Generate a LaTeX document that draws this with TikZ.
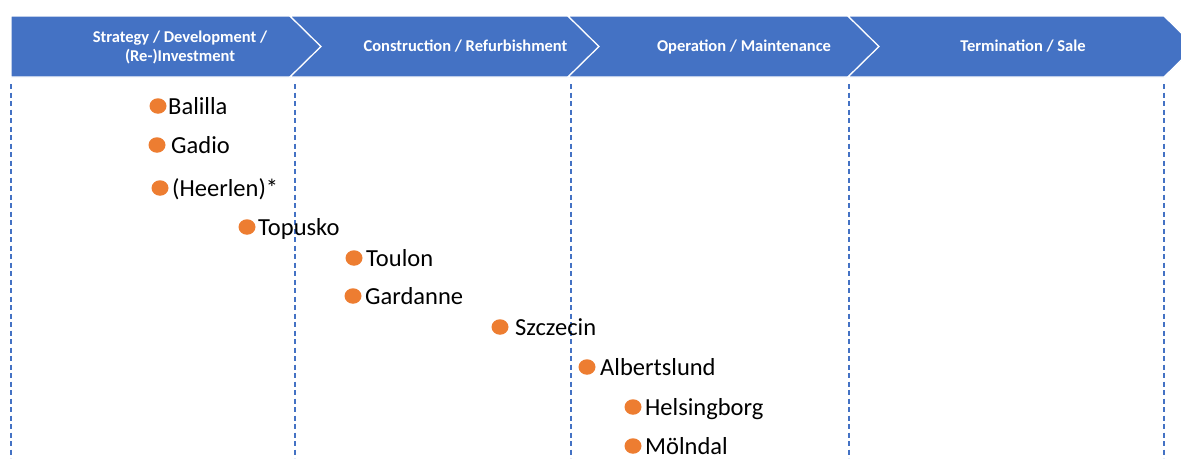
\documentclass[tikz,border=0pt]{standalone}
\usepackage{fontspec}
\setmainfont{Carlito}
\definecolor{phaseblue}{HTML}{4472C4}
\definecolor{dotorange}{HTML}{ED7D31}
\begin{document}
\begin{tikzpicture}[x=1pt,y=-1pt,
  phase/.style={fill=phaseblue,draw=white,line width=1.2pt,line join=miter},
  phaselabel/.style={text=white,font=\fontsize{16.5}{18.5}\selectfont\bfseries,align=center,inner sep=0pt},
  divider/.style={draw=phaseblue,line width=1.1pt,dash pattern=on 5pt off 3.5pt},
  dot/.style={ellipse,fill=dotorange,minimum width=17pt,minimum height=15.5pt,inner sep=0pt},
  site/.style={anchor=base west,font=\fontsize{24.5}{28}\selectfont,inner sep=0pt,text=black}]
\usetikzlibrary{shapes.geometric}
\useasboundingbox (0,0) rectangle (1181,458);
\begin{scope}
\clip (0,0) rectangle (1181,458);
% process chevrons
\path[phase] (11,16) -- (290,16) -- (321,46.5) -- (290,77) -- (11,77) -- cycle;
\path[phase] (290,16) -- (568,16) -- (599,46.5) -- (568,77) -- (290,77) -- (321,46.5) -- cycle;
\path[phase] (568,16) -- (848,16) -- (879,46.5) -- (848,77) -- (568,77) -- (599,46.5) -- cycle;
\path[phase] (848,16) -- (1164,16) -- (1195,46.5) -- (1164,77) -- (848,77) -- (879,46.5) -- cycle;
\end{scope}
\node[phaselabel] (p1) at (180,47.5) {Strategy / Development /\\(Re-)Investment};
\node[phaselabel] (p2) at (465.5,46.5) {Construction / Refurbishment};
\node[phaselabel] (p3) at (744,46.5) {Operation / Maintenance};
\node[phaselabel] (p4) at (1023,46.5) {Termination / Sale};
% phase boundaries
\coordinate (d0t) at (11,84);  \coordinate (d0b) at (11,458);
\coordinate (d1t) at (295,84); \coordinate (d1b) at (295,458);
\coordinate (d2t) at (571,84); \coordinate (d2b) at (571,458);
\coordinate (d3t) at (849,84); \coordinate (d3b) at (849,458);
\coordinate (d4t) at (1164,84); \coordinate (d4b) at (1164,458);
\foreach \i in {0,...,4} \draw[divider] (d\i t) -- (d\i b);
% sites: dot centre and label start, label baseline 8pt below the dot centre
\foreach \n/\x/\y/\tx/\t in {
  a/158/106/168/Balilla,
  b/157/145/171/Gadio,
  c/160/188/172/(Heerlen)*,
  d/247/227/258/Topusko,
  e/354/258/366/Toulon,
  f/353/296/365/Gardanne,
  g/500/327/515/Szczecin,
  h/587/367/600/Albertslund,
  i/633/407/645/Helsingborg,
  j/633/446/645/Mölndal}{
  \node[dot] (dot\n) at (\x,\y) {};
  \node[site] (lab\n) at (\tx,\y+8) {\t};
}
\end{tikzpicture}
\end{document}
